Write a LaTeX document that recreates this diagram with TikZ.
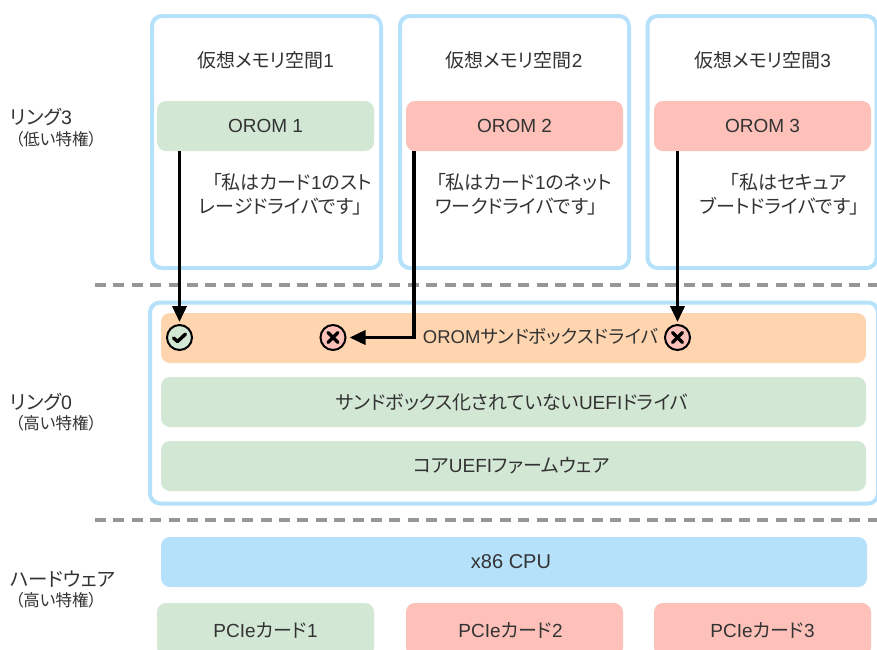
\documentclass[tikz,border=0pt]{standalone}
\usepackage{fontspec}
\setmainfont[RawFeature=+palt]{Noto Sans CJK JP}
\newfontfamily\lat{Liberation Sans}
\usetikzlibrary{arrows.meta,calc}
\definecolor{skyb}{HTML}{B5E1FB}
\definecolor{grn}{HTML}{D3E7D5}
\definecolor{pnk}{HTML}{FDC1BA}
\definecolor{org}{HTML}{FED5AF}
\definecolor{txt}{HTML}{333333}
\definecolor{dashg}{HTML}{979797}
\tikzset{
  x=1pt,y=-1pt,
  lbl/.style={text=txt,font=\fontsize{19}{23}\selectfont,inner sep=0,align=center},
  side/.style={text=txt,font=\fontsize{19.5}{23}\selectfont,inner sep=0,anchor=west},
  sm/.style={text=txt,font=\fontsize{16.5}{18}\selectfont,inner sep=0,anchor=west},
  space/.style={draw=skyb,line width=4pt,fill=white,rounded corners=10pt,minimum width=229pt,minimum height=252pt,inner sep=0},
  bar/.style={lbl,rounded corners=9pt,minimum height=50pt,inner sep=0},
  gbar/.style={bar,fill=grn},
  quotetext/.style={lbl,align=right,anchor=east,font=\fontsize{19}{24}\selectfont},
  sep/.style={dashg,line width=3.5pt,dash pattern=on 11pt off 7.4pt},
  flow/.style={draw=black,line width=3.6pt,-{Triangle[length=16pt,width=14pt]}},
  status/.style={circle,draw=black,line width=2pt,minimum size=25pt,inner sep=0},
  mk/.style={black,line width=3.4pt,line cap=round,line join=round}
}
\begin{document}
\begin{tikzpicture}
\clip (0,0) rectangle (877,649);
\fill[white] (0,0) rectangle (877,649);
% upper address spaces
\node[space] (s1) at (266.5,142) {};
\node[space] (s2) at (514.5,142) {};
\node[space] (s3) at (762,142) {};
\node[lbl] (s1t) at (265.5,60) {仮想メモリ空間{\lat 1}};
\node[lbl] (s2t) at (514,60) {仮想メモリ空間{\lat 2}};
\node[lbl] (s3t) at (762.5,60) {仮想メモリ空間{\lat 3}};
\node[bar,fill=grn,minimum width=217pt] (o1) at (265.5,126) {\lat OROM 1};
\node[bar,fill=pnk,minimum width=217pt] (o2) at (514.5,126) {\lat OROM 2};
\node[bar,fill=pnk,minimum width=217pt] (o3) at (762.5,126) {\lat OROM 3};
\node[quotetext] (q1) at (372,194) {「私はカード{\lat 1}のスト\\レージドライバです」\hspace*{9pt}};
\node[quotetext] (q2) at (612,194) {「私はカード{\lat 1}のネット\\ワークドライバです」\hspace*{14pt}};
\node[quotetext] (q3) at (860,194) {「私はセキュア\hspace*{13pt}\\ブートドライバです」};
% ring 0
\node[draw=skyb,line width=4pt,fill=white,rounded corners=10pt,minimum width=728pt,minimum height=201pt] (r0) at (514,403) {};
\node[bar,fill=org,minimum width=705pt] (sb) at (513.5,338) {};
\node[lbl,font=\fontsize{18.5}{23}\selectfont] (sbt) at (540.5,337) {{\lat OROM}サンドボックスドライバ};
\node[gbar,minimum width=705pt] (un) at (513.5,402) {\hspace*{-3pt}サンドボックス化されていない{\lat UEFI}ドライバ};
\node[gbar,minimum width=705pt] (core) at (513.5,466) {\hspace*{-4pt}コア{\lat UEFI}ファームウェア};
% separators
\coordinate (d1a) at (95,285); \coordinate (d1b) at (877,285);
\coordinate (d2a) at (95,520); \coordinate (d2b) at (877,520);
\draw[sep] (d1a) -- (d1b);
\draw[sep] (d2a) -- (d2b);
% hardware
\node[bar,fill=skyb,minimum width=706pt] (cpu) at (514,562) {\hspace*{-6pt}\fontsize{20}{23}\selectfont\lat x86 CPU};
\node[bar,fill=grn,minimum width=217pt,minimum height=54pt] (p1) at (265.5,630) {};
\node[bar,fill=pnk,minimum width=217pt,minimum height=54pt] (p2) at (514.5,630) {};
\node[bar,fill=pnk,minimum width=217pt,minimum height=54pt] (p3) at (762.5,630) {};
\node[lbl] (p1t) at (265.5,630) {{\lat PCIe}カード{\lat 1}};
\node[lbl] (p2t) at (510.5,630) {{\lat PCIe}カード{\lat 2}};
\node[lbl] (p3t) at (762.5,630) {{\lat PCIe}カード{\lat 3}};
% side labels
\node[side] (l3) at (10,117) {リング{\lat 3}};
\node[sm] (l3s) at (15,139) {（低い特権）};
\node[side] (l0) at (10,402) {リング{\lat 0}};
\node[sm] (l0s) at (15,423) {（高い特権）};
\node[side] (lh) at (10,579) {ハードウェア};
\node[sm] (lhs) at (15,600) {（高い特権）};
% status marks
\node[status,fill=grn] (ok) at (179.5,337.5) {};
\node[status,fill=pnk] (x1) at (333,337.5) {};
\node[status,fill=pnk] (x2) at (677.5,337.5) {};
\draw[mk] ($(ok)+(-6,0.5)$) -- ($(ok)+(-2,4)$) -- ($(ok)+(6,-3.5)$);
\foreach \n in {x1,x2}{
  \draw[mk] ($(\n)+(-5,-5)$) -- ($(\n)+(5,5)$);
  \draw[mk] ($(\n)+(-5,5)$) -- ($(\n)+(5,-5)$);
}
% connectors
\draw[flow,shorten >=2pt] (o1.south -| ok.north) -- (ok.north);
\draw[flow,shorten >=2pt] (o3.south -| x2.north) -- (x2.north);
\coordinate (o2out) at (414,151);
\draw[flow,shorten >=3pt] (o2out) |- (x1.east);
\end{tikzpicture}
\end{document}
